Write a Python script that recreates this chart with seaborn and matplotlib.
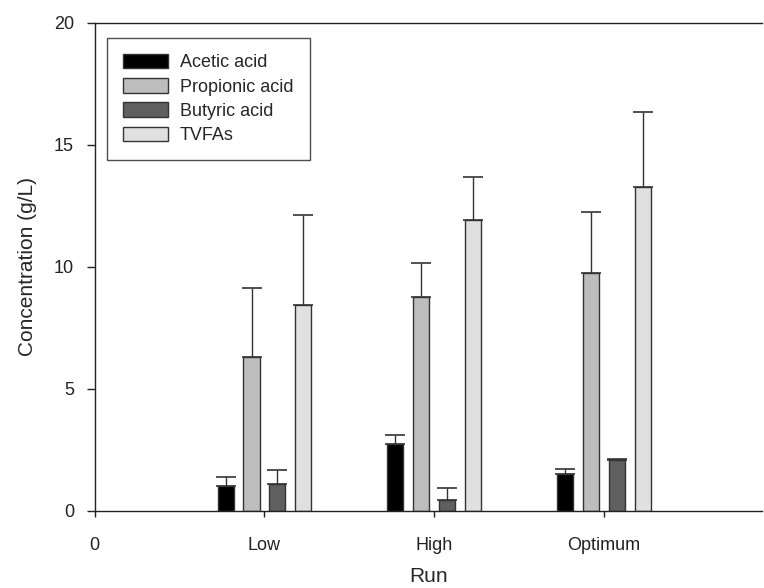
import matplotlib
matplotlib.use("Agg")
import matplotlib.pyplot as plt
import seaborn as sns
import pandas as pd
import numpy as np
from matplotlib.patches import Patch

runs = ["Low", "High", "Optimum"]
acids = ["Acetic acid", "Propionic acid", "Butyric acid", "TVFAs"]
acetic = [1.04, 2.75, 1.52]
propionic = [6.31, 8.76, 9.74]
butyric = [1.11, 0.46, 2.10]
tvfas = [8.44, 11.93, 13.28]
acetic_err = [0.35, 0.36, 0.19]
propionic_err = [2.82, 1.40, 2.51]
butyric_err = [0.58, 0.47, 0.02]
tvfas_err = [3.70, 1.76, 3.07]
x_ticks = ["0", "Low", "High", "Optimum"]
colors = ["#000000", "#bdbdbd", "#5f5f5f", "#e0e0e0"]

vals = [acetic, propionic, butyric, tvfas]
errs = [acetic_err, propionic_err, butyric_err, tvfas_err]
rows = []
for a, v, e in zip(acids, vals, errs):
    for r, vv, ee in zip(runs, v, e):
        rows.append({"Run": r, "Acid": a, "Conc": vv, "Err": ee})
df = pd.DataFrame(rows)

sns.set_style("ticks")
plt.rcParams["font.family"] = ["Liberation Sans", "DejaVu Sans"]

fig = plt.figure(figsize=(7.64, 5.88), dpi=100)
ax = fig.add_axes([0.124, 0.131, 0.873, 0.830])

sns.barplot(data=df, x="Run", y="Conc", hue="Acid", order=x_ticks, hue_order=acids,
            palette=colors, width=0.61, gap=0.38, errorbar=None, ax=ax,
            edgecolor="#333333", linewidth=1.0, saturation=1, legend=False)

err_lookup = {(r["Run"], r["Acid"]): r["Err"] for _, r in df.iterrows()}
for acid, cont in zip(acids, ax.containers):
    for bar in cont:
        h = bar.get_height()
        if not np.isfinite(h) or h == 0:
            continue
        xc = bar.get_x() + bar.get_width() / 2
        run = x_ticks[int(round(xc))]
        e = err_lookup.get((run, acid), 0)
        ax.errorbar(xc, h, yerr=[[0], [e]], fmt="none", ecolor="#333333",
                    elinewidth=1.0, capsize=7, capthick=1.2, zorder=1)

ax.set_xlim(0.0, 3.93)
ax.set_ylim(0, 20)
ax.set_yticks([0, 5, 10, 15, 20])
ax.set_xticks(range(4))
ax.set_xticklabels(x_ticks)
ax.tick_params(axis="both", labelsize=13, colors="#222222", direction="out")
ax.tick_params(axis="y", length=6, width=1, pad=9)
ax.tick_params(axis="x", length=4, width=1, pad=15)
for s in ["left", "bottom", "top"]:
    ax.spines[s].set_visible(True)
    ax.spines[s].set_color("#222222")
    ax.spines[s].set_linewidth(1.0)
ax.spines["right"].set_visible(False)
ax.set_xlabel("Run", fontsize=15, labelpad=9)
ax.set_ylabel("Concentration (g/L)", fontsize=15, labelpad=12)

handles = [Patch(facecolor=c, edgecolor="#333333", linewidth=1.0) for c in colors]
leg = ax.legend(handles, acids, loc="upper left", bbox_to_anchor=(0.018, 0.97),
                fontsize=13, frameon=True, fancybox=False, handlelength=2.5,
                handleheight=0.85, labelspacing=0.38, borderpad=0.9, handletextpad=0.65,
                borderaxespad=0)
leg.get_frame().set_edgecolor("#222222")
leg.get_frame().set_linewidth(1.0)

fig.savefig("out.png", dpi=100)
